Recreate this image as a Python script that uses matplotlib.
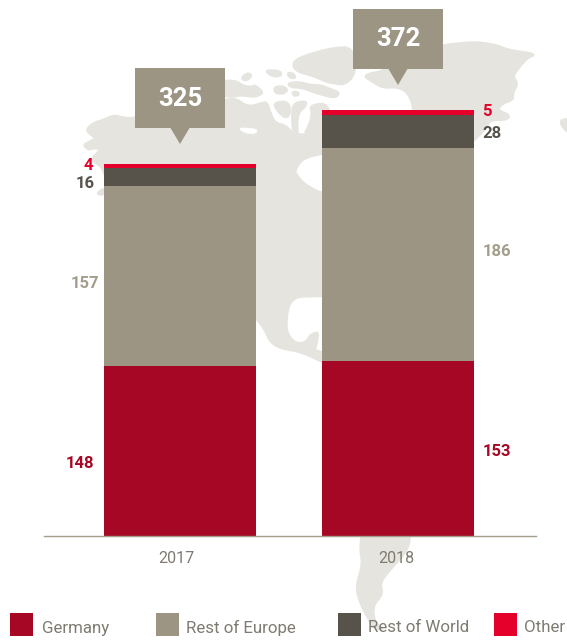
"""
Revenue by region, 2017 and 2018, stacked bars over a pale map of the Americas.
"""

import matplotlib

matplotlib.use("Agg")

import matplotlib.pyplot as plt
import numpy as np
from matplotlib.patches import Polygon, Rectangle

WIDTH, HEIGHT = 567, 641

years = ["2017", "2018"]
regions = ["Germany", "Rest of Europe", "Rest of World", "Other"]
germany = [148, 153]
rest_of_europe = [157, 186]
rest_of_world = [16, 28]
other = [4, 5]
totals = [325, 372]

RED = "#A60724"
TAUPE = "#9C9583"
DARK = "#57534A"
BRIGHT = "#E4002B"
MAP = "#E5E4DF"
TEXT = "#7F7B70"

colors = [RED, TAUPE, DARK, BRIGHT]
label_colors = [RED, "#A39D8C", DARK, BRIGHT]

# Map outlines in pixels, y pointing down
LAND = [
    # mainland North America
    [(136, 118), (124, 118), (114, 115), (103, 120), (93, 123), (86, 130), (91, 135),
     (96, 138), (89, 142), (83, 145), (89, 150), (94, 148), (101, 149), (93, 157),
     (92, 161), (104, 168), (110, 200), (240, 300), (256, 318), (265, 330), (270, 342),
     (280, 348), (290, 350), (300, 352), (310, 356), (322, 362), (345, 365), (345, 135),
     (322, 135), (305, 135), (293, 133), (285, 125), (275, 123), (270, 112), (267, 102),
     (262, 103), (248, 107), (235, 98), (225, 100)],
    # Alaska peninsula tail
    [(97, 193), (104, 188), (108, 193), (100, 195)],
    # Arctic islands
    [(292, 65), (298, 58), (317, 52), (333, 48), (353, 47), (356, 73), (345, 85),
     (333, 83), (327, 82), (318, 78), (310, 75), (298, 72)],
    [(288, 83), (300, 82), (310, 85), (320, 85), (333, 90), (340, 93), (335, 98),
     (323, 95), (313, 92), (303, 88), (290, 87)],
    [(215, 82), (235, 80), (243, 86), (252, 87), (255, 85), (263, 92), (260, 95),
     (253, 97), (242, 95), (232, 97), (215, 95)],
    [(242, 77), (248, 73), (252, 75), (248, 80), (243, 80)],
    [(267, 70), (280, 71), (282, 75), (275, 77), (267, 73)],
    [(287, 73), (293, 73), (296, 78), (290, 78)],
    [(274, 87), (283, 86), (288, 90), (283, 94), (275, 93)],
    [(292, 92), (298, 92), (299, 95), (294, 96)],
    [(273, 103), (287, 101), (291, 110), (287, 119), (278, 112)],
    [(293, 103), (307, 101), (305, 107), (299, 112), (297, 122), (298, 134), (293, 132),
     (292, 117)],
    [(310, 105), (330, 103), (330, 137), (303, 137), (310, 123), (312, 113)],
    # Greenland
    [(362, 75), (388, 70), (400, 55), (443, 45), (463, 43), (477, 42), (497, 45),
     (508, 50), (537, 54), (527, 58), (517, 70), (513, 77), (518, 83), (513, 93),
     (513, 100), (503, 103), (497, 110), (510, 115), (507, 120), (490, 120), (487, 127),
     (473, 142), (460, 150), (420, 150), (413, 109), (412, 102), (407, 92), (397, 87),
     (383, 88), (373, 82)],
    # Iceland, running off the edge
    [(560, 121), (565, 119), (572, 120), (572, 135), (563, 128)],
    # South America below the axis
    [(362, 530), (360, 550), (362, 560), (361, 570), (357, 583), (357, 593), (362, 607),
     (368, 618), (373, 627), (380, 630), (383, 628), (376, 625), (372, 607), (383, 594),
     (380, 583), (389, 571), (409, 549), (410, 530)],
]

WATER = [
    # Hudson Bay
    [(297, 173), (297, 170), (303, 160), (322, 155), (340, 152), (340, 195), (322, 192),
     (305, 183)],
    # Gulf of Mexico
    [(330, 297), (310, 298), (300, 298), (295, 300), (290, 306), (288, 320), (288, 330),
     (292, 338), (298, 342), (305, 341), (310, 333), (320, 330), (318, 345), (316, 350),
     (330, 351)],
    # thin channel under the islands
    [(238, 128), (250, 128), (258, 130), (255, 134), (245, 133)],
]

BAR_CENTERS = [180, 398]
BAR_WIDTH = 152
BASELINE = 536
PX_PER_UNIT = 1.146

# pixel positions of the value labels, one row per region
LABEL_Y = [[463, 451], [283, 252], [184, 134], [166, 112]]
LABEL_X = [[94.5, 482.5], [99.5, 482.5], [94.5, 482.5], [93.5, 482]]
CALLOUT_TOP = [68, 9]

SWATCH_X = [10, 156, 338, 494]
LEGEND_TEXT_X = [42, 186, 368, 524]


def smooth(points, rounds=2):
    """Round off a closed outline by corner cutting."""
    pts = np.asarray(points, dtype=float)
    for _ in range(rounds):
        nxt = np.roll(pts, -1, axis=0)
        pts = np.column_stack(
            [0.75 * pts + 0.25 * nxt, 0.25 * pts + 0.75 * nxt]
        ).reshape(-1, 2)
    return pts


def draw_map(ax):
    # The thick edge makes up for what corner cutting takes off the small islands
    for outline in LAND:
        ax.add_patch(Polygon(smooth(outline), closed=True, fc=MAP, ec=MAP, lw=1.6))
    for outline in WATER:
        ax.add_patch(Polygon(smooth(outline), closed=True, fc="white", ec="white", lw=0.5))


def draw_bars(ax):
    bottom = np.zeros(len(years))
    for values, color in zip([germany, rest_of_europe, rest_of_world, other], colors):
        ax.bar(range(len(years)), values, BAR_WIDTH / 218, bottom=bottom, color=color,
               linewidth=0)
        bottom += np.array(values)

    ax.set_xlim((44 - BAR_CENTERS[0]) / 218, (536 - BAR_CENTERS[0]) / 218)
    ax.set_ylim(0, BASELINE / PX_PER_UNIT)
    ax.set_xticks([-0.018, 0.99])
    ax.set_xticklabels(years, fontsize=11.5, color=TEXT)
    ax.tick_params(axis="x", length=0, pad=10.5)
    ax.set_yticks([])
    for side in ["top", "left", "right"]:
        ax.spines[side].set_visible(False)
    ax.spines["bottom"].set_color("#A39D8C")
    ax.spines["bottom"].set_linewidth(1.0)
    ax.patch.set_alpha(0)


def draw_overlay(ax):
    # Value labels either side of the bars
    series = [germany, rest_of_europe, rest_of_world, other]
    for values, xs, ys, color in zip(series, LABEL_X, LABEL_Y, label_colors):
        for i, value in enumerate(values):
            ax.text(xs[i], ys[i], str(value), color=color, fontsize=12, fontweight="bold",
                    ha="right" if i == 0 else "left", va="center")

    # Callouts with the yearly totals
    for center, top, total in zip(BAR_CENTERS, CALLOUT_TOP, totals):
        ax.add_patch(Rectangle((center - 45, top), 90, 60, fc=TAUPE, ec="none"))
        ax.add_patch(Polygon([(center - 9.5, top + 60), (center + 9.5, top + 60),
                              (center, top + 76)], closed=True, fc=TAUPE, ec="none"))
        ax.text(center, top + 30.5, str(total), color="white", fontsize=18.5,
                fontweight="bold", ha="center", va="center")

    # Legend row
    for x, text_x, name, color in zip(SWATCH_X, LEGEND_TEXT_X, regions, colors):
        ax.add_patch(Rectangle((x, 613), 23, 23, fc=color, ec="none"))
        ax.text(text_x, 628, name, color=TEXT, fontsize=12.2, ha="left", va="center")


def main():
    plt.rcParams["font.family"] = ["Roboto", "DejaVu Sans"]

    fig = plt.figure(figsize=(WIDTH / 100, HEIGHT / 100), dpi=100)

    ax_map = fig.add_axes([0, 0, 1, 1], zorder=0)
    ax_bars = fig.add_axes(
        [44 / WIDTH, 1 - BASELINE / HEIGHT, (536 - 44) / WIDTH, BASELINE / HEIGHT], zorder=1
    )
    ax_top = fig.add_axes([0, 0, 1, 1], zorder=2)

    for ax in (ax_map, ax_top):
        ax.set_xlim(0, WIDTH)
        ax.set_ylim(HEIGHT, 0)
        ax.axis("off")

    draw_map(ax_map)
    draw_bars(ax_bars)
    draw_overlay(ax_top)

    fig.savefig("out.png", dpi=100)
    plt.close(fig)


if __name__ == "__main__":
    main()
